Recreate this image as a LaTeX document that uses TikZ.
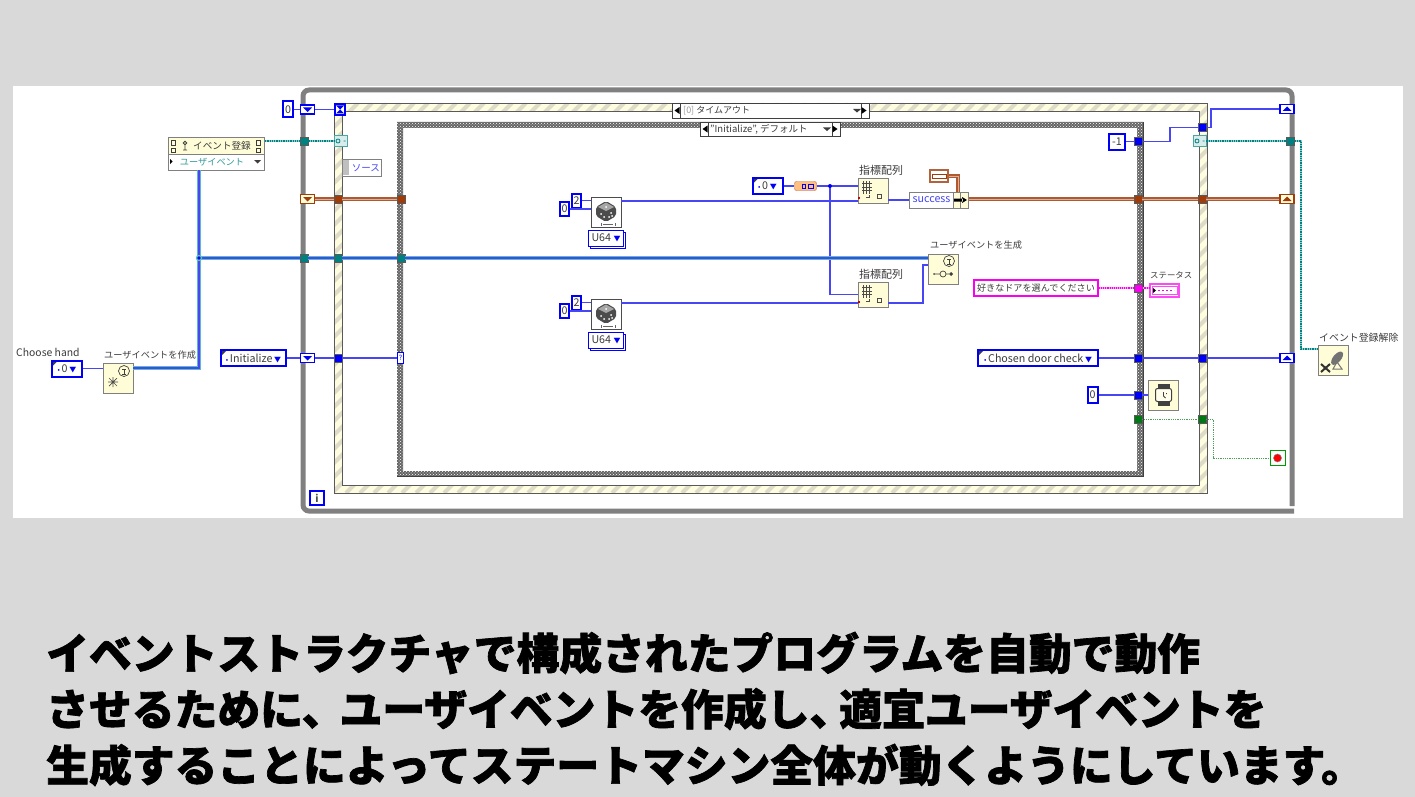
\documentclass[tikz,border=0pt]{standalone}
\usepackage{fontspec}
\setmainfont{Noto Sans CJK JP}
\newfontfamily\titlefont[BoldFeatures={FakeBold=1.6}]{Noto Sans CJK JP}
\usepackage{xcolor}
\usetikzlibrary{
  arrows.meta,
  positioning,
  calc,
  patterns
}
\definecolor{xpage}{RGB}{217,217,217}
\definecolor{xblue}{RGB}{0,0,245}
\definecolor{xwire}{RGB}{70,70,245}
\definecolor{xteal}{RGB}{0,128,128}
\definecolor{xtealsoft}{RGB}{90,190,190}
\definecolor{xbrown}{RGB}{160,60,10}
\definecolor{xpink}{RGB}{250,0,240}
\definecolor{xgreen}{RGB}{0,120,20}
\definecolor{xcream}{RGB}{255,253,215}
\definecolor{xhatch}{RGB}{222,220,200}
\definecolor{xlabel}{RGB}{60,60,60}
\definecolor{xloop}{RGB}{128,128,128}

\begin{document}
\begin{tikzpicture}[
  x=1pt, y=-1pt,
  box/.style={draw=#1, line width=2pt, fill=white, inner sep=0pt, align=center,
              font=\fontsize{10.7}{12}\selectfont, text=xlabel},
  const/.style={box=xblue, minimum width=#1, minimum height=16pt},
  ctrl/.style={box=xblue, minimum width=#1, minimum height=16pt,
               path picture={\fill[xlabel] (path picture bounding box.north west) -- ++(6pt,0pt) -- ++(-6pt,-6pt) -- cycle;}},
  tun/.style={draw=black!65, fill=#1, minimum size=8pt, inner sep=0pt, line width=.6pt},
  regdown/.style={draw=#1, line width=1.6pt, fill=white, minimum width=14pt, minimum height=9pt, inner sep=0pt,
                  path picture={\fill[#1] ([shift={(-4.5pt,2pt)}]path picture bounding box.center) -- ++(9pt,0pt) -- ++(-4.5pt,-4.5pt) -- cycle;}},
  regup/.style={draw=#1, line width=1.6pt, fill=white, minimum width=14pt, minimum height=9pt, inner sep=0pt,
                path picture={\fill[#1] ([shift={(-4.5pt,-2pt)}]path picture bounding box.center) -- ++(9pt,0pt) -- ++(-4.5pt,4.5pt) -- cycle;}},
  func/.style={draw=black!50, line width=.9pt, fill=xcream, minimum width=30pt, minimum height=#1, inner sep=0pt},
  dice/.style={draw=black!70, line width=.9pt, fill=white, minimum width=30pt, minimum height=30pt, inner sep=0pt},
  lbl/.style={font=\fontsize{9.2}{11}\selectfont, text=xlabel, inner sep=0pt},
  selector/.style={draw=black!75, line width=.9pt, fill=white, inner sep=0pt, text=xlabel,
                   font=\fontsize{9.5}{11}\selectfont},
  bwire/.style={draw=xwire, line width=1.3pt},
  twire/.style={draw=xtealsoft, double=xwire, double distance=1.5pt, line width=1.2pt},
  ndot/.style={draw=xtealsoft!70, line width=2.8pt, postaction={draw=xteal, line width=2.8pt, dash pattern=on 1.3pt off 1pt}},
  rwire/.style={draw=xbrown!85, double=xbrown!40, double distance=1pt, line width=1.1pt},
  pwire/.style={draw=xpink!40, line width=1.6pt, postaction={draw=xpink, line width=1.1pt, densely dotted}},
  gwire/.style={draw=xgreen!70, line width=.8pt, densely dotted}
]
  \useasboundingbox (0,0) rectangle (1415,797);
  \fill[xpage] (0,0) rectangle (1415,797);
  \fill[white] (13,86) rectangle (1403,518);

  \draw[xloop, line width=5pt, rounded corners=6pt] (1292,506) -- (1292,90) -- (303,90) -- (303,511) -- (1294,511);

  \begin{scope}[even odd rule]
    \clip (334,103) rectangle (1207,493) (342,111) rectangle (1199,485);
    \fill[xcream!80] (334,103) rectangle (1207,493);
    \foreach \x in {0,14,...,1260}
      \draw[xhatch, line width=4pt] (\x-60,493) -- (\x+330,103);
  \end{scope}
  \draw[black!65, line width=.9pt] (334,103) rectangle (1207,493);
  \draw[black!65, line width=.9pt] (342,111) rectangle (1199,485);

  \fill[even odd rule, black!60] (397,122) rectangle (1143,476) (403,128) rectangle (1137,471);
  \fill[even odd rule, pattern=crosshatch dots, pattern color=white] (397,122) rectangle (1143,476) (403,128) rectangle (1137,471);
  \draw[black!75, line width=1pt] (1143,122) -- (1143,476) -- (397,476);

  \node[selector, minimum width=197pt, minimum height=15pt] (timeout) at (770.5,110.5) {};
  \node[selector, minimum width=8pt, minimum height=15pt] (tleft) at (676,110.5) {};
  \node[selector, minimum width=8pt, minimum height=15pt] (tright) at (865,110.5) {};
  \node[lbl, anchor=west, font=\fontsize{9}{11}\selectfont] (ttext) at (683,110.5) {\textcolor{black!40}{[0]} タイムアウト};
  \node[selector, minimum width=140pt, minimum height=14pt] (casesel) at (770,129) {};
  \node[selector, minimum width=8pt, minimum height=14pt] (cleft) at (704,129) {};
  \node[selector, minimum width=8pt, minimum height=14pt] (cright) at (836,129) {};
  \node[lbl, anchor=west, font=\fontsize{9.5}{11}\selectfont] (ctext) at (710,129) {"Initialize", デフォルト};
  \foreach \x/\y in {857/110.5,827/129} \fill[xlabel] (\x-4,\y-1.5) -- (\x+4,\y-1.5) -- (\x,\y+2) -- cycle;
  \foreach \x/\y in {678.5/110.5,706.5/129} \fill[black] (\x-4,\y) -- (\x+1,\y-3.5) -- (\x+1,\y+3.5) -- cycle;
  \foreach \x/\y in {862.5/110.5,833.5/129} \fill[black] (\x+4,\y) -- (\x-1,\y-3.5) -- (\x-1,\y+3.5) -- cycle;

  \node[const=10pt] (kzero) at (288,109.5) {0};
  \node[regdown=xblue] (srtimeL) at (307.5,109.5) {};
  \node[box=xblue, minimum width=10pt, minimum height=11pt, line width=1.6pt] (hourglass) at (340,109.5) {};
  \fill[xblue] (336,105.5) -- (344,105.5) -- (340,109.5) -- (344,113.5) -- (336,113.5) -- (340,109.5) -- cycle;
  \node[func=17pt, minimum width=96pt, anchor=north west] (regtop) at (168,137) {};
  \node[lbl, font=\fontsize{9.6}{11}\selectfont] (regtext) at (222,145.5) {イベント登録};
  \node[func=16pt, minimum width=96pt, anchor=north west, fill=white] (regbot) at (168,154) {};
  \node[lbl, text=xteal!80] (regtype) at (212,162) {ユーザイベント};
  \fill[xlabel] (254,160) -- (261,160) -- (257.5,163.5) -- cycle;
  \fill[black] (170,159) -- (172.5,161.5) -- (170,164) -- cycle;
  \foreach \x in {173,258} \draw[xlabel, line width=.8pt] (\x-2,140) rectangle (\x+2,145) (\x-2,148) rectangle (\x+2,152);
  \draw[xlabel, line width=.8pt] (185,143) circle (1.8pt) (185,145) -- (185,150) (183,150) -- (187,150);
  \node[draw=xteal!70, fill=xteal!15, minimum width=13pt, minimum height=11pt, inner sep=0pt] (evL) at (340.5,141) {};
  \node[draw=xteal!70, fill=xteal!15, minimum width=13pt, minimum height=11pt, inner sep=0pt] (evR) at (1199.5,141) {};
  \foreach \n in {evL,evR} \draw[xteal, line width=.8pt] ([shift={(-2.5pt,0pt)}]\n.center) circle (2pt) ([shift={(3pt,0pt)}]\n.center) -- ++(2pt,0pt);
  \node[draw=black!50, fill=white, line width=.8pt, minimum width=39pt, minimum height=17pt, inner sep=0pt,
        font=\fontsize{9.5}{11}\selectfont, text=xwire, anchor=north west] (source) at (342,159) {\hspace{8pt}ソース};
  \fill[black!25] (343,160) rectangle (349,175);

  \node[regdown=xbrown, fill=xcream] (srerrL) at (307.5,199) {};
  \node[regup=xbrown, fill=xcream] (srerrR) at (1287,199) {};
  \node[regup=xblue] (srtimeR) at (1287,109) {};
  \node[regup=xblue] (srstateR) at (1287,358) {};
  \node[regdown=xblue] (srstateL) at (307.5,358) {};

  \foreach \n/\x/\y/\c in {tTa/304/141/xteal, tTb/1290.5/141/xteal,
    tRa/338/199/xbrown, tRb/401/199/xbrown, tRc/1138/199/xbrown, tRd/1202/199/xbrown,
    tUa/304/258/xteal, tUb/338/258/xteal, tUc/401/258/xteal,
    tSa/338/358/xblue, tSb/1138/358/xblue, tSc/1202/358/xblue,
    tMa/1138/141.5/xblue, tMb/1202/127.5/xblue, tWa/1138/395/xblue,
    tPa/1138/288/xpink, tGa/1138/419/xgreen, tGb/1202/419/xgreen}
    \node[tun=\c] (\n) at (\x,\y) {};
  \node[box=xblue, line width=.8pt, minimum width=6pt, minimum height=11pt, font=\fontsize{7}{8}\selectfont, text=xblue] (casein) at (400.5,358) {?};

  \node[lbl, anchor=west, font=\fontsize{10.4}{12}\selectfont] (lhand) at (16,352) {Choose hand};
  \node[ctrl=30pt] (hand) at (67,368.5) {\textcolor{xblue}{\scriptsize•}\,0\,\textcolor{xblue}{\scriptsize▼}};
  \node[func=30pt] (create) at (118,378) {};
  \node[lbl, anchor=west] (lcreate) at (104,355) {ユーザイベントを作成};
  \node[ctrl=65pt] (init) at (253.5,358) {\textcolor{xblue}{\scriptsize•}\,Initialize\,\textcolor{xblue}{\scriptsize▼}};
  \node[box=xblue, line width=1.6pt, minimum width=14pt, minimum height=14pt, font=\fontsize{10}{11}\selectfont\bfseries, text=black!70] (iter) at (317,498) {i};

  \node[dice] (dicea) at (606,212) {};
  \node[dice] (diceb) at (606,314) {};
  \foreach \n/\y in {a/238,b/340} {
    \node[box=xblue, line width=.9pt, minimum width=35pt, minimum height=16pt] (u\n back) at (608,\y+2) {};
    \node[box=xblue, line width=.9pt, minimum width=35pt, minimum height=16pt] (u\n) at (606,\y) {U64 \textcolor{xblue}{\scriptsize▼}};
  }
  \node[const=9pt, minimum height=14pt] (zeroa) at (564.5,209) {0};
  \node[const=9pt, minimum height=14pt] (twoa) at (576.5,200.5) {2};
  \node[const=9pt, minimum height=14pt] (zerob) at (564.5,311) {0};
  \node[const=9pt, minimum height=14pt] (twob) at (576.5,302.5) {2};
  \foreach \n in {dicea,diceb} {
    \begin{scope}[shift={(\n.center)}]
      \fill[black!70, rounded corners=2pt] (-10,-5) -- (0,-11) -- (10,-5) -- (10,4) -- (0,10) -- (-10,4) -- cycle;
      \fill[black!35] (-8,-5) -- (0,-9.5) -- (8,-5) -- (0,-1) -- cycle;
      \foreach \px/\py in {-5/2,-2/5,5/1,3/5,6/4,0/-5} \fill[white] (\px,\py) circle (1pt);
      \draw[black!60, line width=.5pt] (-5,11) -- (-5,14) (9,11) -- (9,14) (-3,12.5) -- (7,12.5);
    \end{scope}
  }

  \node[ctrl=30pt] (enumk) at (767.5,186) {\textcolor{xblue}{\scriptsize•}\,0\,\textcolor{xblue}{\scriptsize▼}};
  \node[draw=xbrown!80, fill=orange!50, minimum width=22pt, minimum height=9pt, inner sep=0pt, rounded corners=2pt] (conv) at (805.5,186) {};
  \draw[xblue, line width=.9pt] (802,184) rectangle (805,188.5) (808,184) rectangle (813,188.5);
  \node[func=25pt] (idxa) at (873,190.5) {};
  \node[func=25pt] (idxb) at (873,294.5) {};
  \node[lbl, font=\fontsize{11}{12}\selectfont] (lidxa) at (881,170) {指標配列};
  \node[lbl, font=\fontsize{11}{12}\selectfont] (lidxb) at (881,274) {指標配列};
  \foreach \n in {idxa,idxb} {
    \begin{scope}[shift={(\n.center)}]
      \draw[black!70, line width=.6pt, step=3.4pt] (-11,-10) grid (-1,3);
      \fill[red!80!black] (-15,6) rectangle (-13,8);
      \draw[black!70, line width=.6pt] (4,4) rectangle (8,8) (-7,7) -- (-4,7) -- (-4,4);
    \end{scope}
  }
  \node[draw=black!50, fill=white, line width=.8pt, minimum width=44pt, minimum height=16pt, inner sep=0pt,
        font=\fontsize{10.7}{12}\selectfont, text=xwire] (succ) at (931.5,200) {success};
  \node[func=16pt, minimum width=7.5pt] (bunda) at (957,200) {};
  \node[func=16pt, minimum width=7.5pt] (bundb) at (964.5,200) {};
  \fill[black] (954,198.5) rectangle (963,201.5) (962,197) -- (967,200) -- (962,203) -- cycle;
  \node[draw=xbrown!80, fill=white, line width=1.2pt, minimum width=18pt, minimum height=12pt, inner sep=0pt] (errk) at (939,176) {};
  \draw[xbrown, line width=1pt] (932,174) rectangle (946,178);
  \node[func=30pt] (gen) at (943,269) {};
  \node[lbl, anchor=west] (lgen) at (930,245) {ユーザイベントを生成};
  \node[func=30pt] (unreg) at (1333,360) {};
  \node[lbl, anchor=west, font=\fontsize{9.9}{11}\selectfont] (lunreg) at (1319,338) {イベント登録解除};
  \foreach \n/\px/\py in {create/6/-7, gen/6/-8} {
    \begin{scope}[shift={(\n.center)}]
      \draw[black!75, line width=.7pt] (\px,\py) circle (5.5pt);
      \draw[black!75, line width=.8pt] (\px-2,\py-2) -- (\px+2,\py-2) (\px,\py-2) -- (\px,\py+3) (\px-2,\py+3) -- (\px+2,\py+3);
    \end{scope}
  }
  \begin{scope}[shift={(create.center)}]
    \draw[black!70, line width=.7pt] (-10,4) -- (0,4) (-5,-1) -- (-5,9) (-9,0) -- (-1,8) (-9,8) -- (-1,0);
  \end{scope}
  \begin{scope}[shift={(gen.center)}]
    \fill[black!75] (-9,5) circle (1pt) (6,5) -- (8,3) -- (10,5) -- (8,7) -- cycle;
    \draw[black!75, line width=.7pt] (0,5) circle (3pt) (-8,5) -- (-3,5) (3,5) -- (6,5);
  \end{scope}
  \begin{scope}[shift={(unreg.center)}]
    \fill[black!55, rotate=-40] (2,-4) ellipse (4pt and 8pt);
    \draw[black!55, line width=1pt] (4,2) -- (0,9) -- (9,9) -- cycle;
    \draw[black!80, line width=2pt] (-12,4) -- (-3,12) (-12,12) -- (-3,4);
  \end{scope}

  \node[box=xpink, minimum width=124pt, minimum height=16pt, font=\fontsize{9.1}{11}\selectfont] (msg) at (1036,288) {好きなドアを選んでください};
  \node[draw=xpink!70, line width=1.1pt, fill=white, minimum width=29pt, minimum height=13pt, inner sep=0pt] (status) at (1164.5,290.5) {};
  \draw[xpink!70, line width=.6pt] (1152,286.5) rectangle (1177,294.5);
  \fill[black] (1153,288) -- (1156,290.5) -- (1153,293) -- cycle;
  \draw[xpink, line width=1.6pt, dash pattern=on 2pt off 2pt] (1158,290.5) -- (1174,290.5);
  \node[lbl, anchor=west, font=\fontsize{8.4}{10}\selectfont] (lstatus) at (1150,275) {ステータス};
  \node[ctrl=120pt] (door) at (1038,358) {\textcolor{xblue}{\scriptsize•}\,Chosen door check\,\textcolor{xblue}{\scriptsize▼}};
  \node[const=10pt] (kwait) at (1092.5,395) {0};
  \node[func=30pt, fill=xcream] (wait) at (1163.5,395) {};
  \begin{scope}[shift={(wait.center)}]
    \fill[black!75] (-6,-11) rectangle (6,11);
    \fill[xcream!50!white, draw=black!75, line width=1pt, rounded corners=2pt] (-8,-6.5) rectangle (8,6.5);
    \draw[black!75, line width=.8pt] (0,-3) -- (0,1) -- (2,3) (3,-2) -- (3,-1);
  \end{scope}
  \node[const=16pt] (kminus) at (1117,141.5) {-1};
  \node[draw=green!60!black, fill=white, line width=1pt, minimum size=15pt, inner sep=0pt] (stop) at (1277.5,458) {};
  \fill[red, draw=black!50, line width=.5pt] (stop.center) circle (4pt);
  \node[draw=xblue, fill=xblue, circle, inner sep=0pt, minimum size=3.5pt] (junc) at (199,258) {};

  \coordinate (jogtop) at (199,170);
  \coordinate (jogA) at (1170,127.5);
  \coordinate (jogB) at (1211,109);
  \coordinate (jogT) at (1301,349);
  \coordinate (jogG) at (1213,458);
  \coordinate (jogR) at (958,176);
  \coordinate (jogE) at (923,265);

  \foreach \a/\b in {kzero/srtimeL, srtimeL/hourglass, init/srstateL, srstateL/tSa, tSa/casein,
                     door/tSb, tSb/tSc, tSc/srstateR, kwait/tWa, tWa/wait, kminus/tMa}
    \draw[bwire] (\a) -- (\b);
  \draw[bwire] (hand.east) -- (hand.east -| create.west);
  \draw[bwire] (succ.west -| idxa.east) -- (succ.west);
  \draw[bwire] (zeroa.east) -- (zeroa.east -| dicea.west);
  \draw[bwire] (twoa.east) -- (twoa.east -| dicea.west);
  \draw[bwire] (zerob.east) -- (zerob.east -| diceb.west);
  \draw[bwire] (twob.east) -- (twob.east -| diceb.west);
  \draw[bwire] ([yshift=11pt]dicea.east) -- ([yshift=11pt]dicea.east -| idxa.west);
  \draw[bwire] ([yshift=11pt]diceb.east) -- ([yshift=11pt]diceb.east -| idxb.west);
  \draw[bwire] (tMa) -| (jogA) -- (tMb);
  \draw[bwire] (tMb) -| (jogB) -- (srtimeR);
  \draw[bwire] (enumk) -- (conv);
  \draw[bwire, line width=1.8pt] (conv) -- (conv -| idxa.west);
  \draw[bwire, line width=1.8pt] (830,186) |- (idxb.west);
  \fill[xblue] (830,186) circle (2pt);
  \draw[bwire] ([yshift=-8.5pt]idxb.east) -| (jogE) -- (jogE -| gen.west);

  \draw[twire] ([yshift=10pt]create.east) -| (jogtop);
  \foreach \a/\b in {junc/tUa, tUa/tUb, tUb/tUc}
    \draw[twire] (\a) -- (\b);
  \draw[twire] (tUc) -- (tUc -| gen.west);
  \fill[xtealsoft] (199,258) circle (3.2pt);
  \fill[xblue] (199,258) circle (1.8pt);

  \draw[ndot] (tTa -| regtop.east) -- (tTa);
  \draw[ndot] (tTa) -- (evL);
  \draw[ndot] (evR) -- (tTb);
  \draw[ndot] (tTb) -| (jogT) -- (jogT -| unreg.west);

  \foreach \a/\b in {srerrL/tRa, tRc/tRd, tRd/srerrR}
    \draw[rwire] (\a) -- (\b);
  \draw[rwire] (tRa) -- (tRb);
  \draw[rwire] (tRc -| bundb.east) -- (tRc);
  \draw[rwire] (errk) -| (jogR) -- (bunda.north -| jogR);

  \draw[pwire] (msg) -- (tPa);
  \draw[pwire] (tPa) -- (tPa -| status.west);
  \draw[gwire] (tGa) -- (tGb);
  \draw[gwire] (tGb) -| (jogG) -- (stop);

  \node[anchor=west, inner sep=0pt, font=\titlefont\bfseries\fontsize{42.8}{50}\selectfont, text=black] (titlea) at (46,653) {イベントストラクチャで構成されたプログラムを自動で動作};
  \node[anchor=west, inner sep=0pt, font=\titlefont\bfseries\fontsize{42.8}{50}\selectfont, text=black] (titleb) at (46,709) {させるために、\hspace{-5pt}ユーザイベントを作成し、\hspace{-13pt}適宜ユーザイベントを};
  \node[anchor=west, inner sep=0pt, font=\titlefont\bfseries\fontsize{42.8}{50}\selectfont, text=black] (titlec) at (46,765) {生成することによってステートマシン全体が動くようにしています。};
\end{tikzpicture}
\end{document}
